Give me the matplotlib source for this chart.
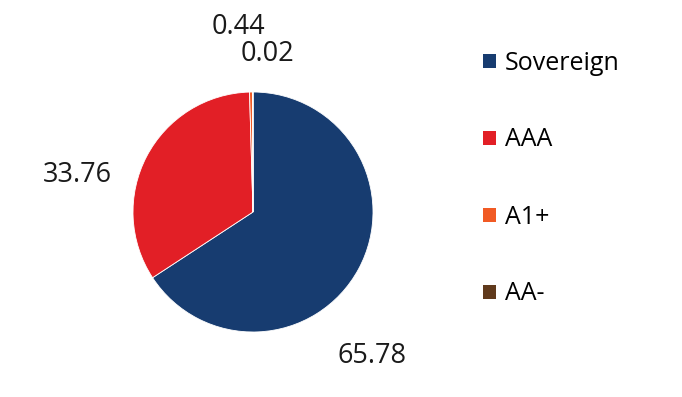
import numpy as np
import matplotlib.pyplot as plt
from matplotlib.patches import Patch

plt.rcParams['font.family'] = ['Open Sans', 'DejaVu Sans']

# ratings breakdown (%)
ratings = ["Sovereign", "AAA", "A1+", "AA-"]
shares = [65.78, 33.76, 0.44, 0.02]
value_labels = ["65.78", "33.76", "0.44", "0.02"]
colors = ["#173c70", "#e21f26", "#f15a24", "#603a1c"]

W, H = 682, 397
fig = plt.figure(figsize=(W / 100, H / 100), dpi=100)

# pie centre ~ (253, 212) px, radius ~ 120 px
cx, cy, r = 253, 212, 120
ax = fig.add_axes([(cx - r) / W, (H - cy - r) / H, 2 * r / W, 2 * r / H])
ax.pie(shares, colors=colors, startangle=90, counterclock=False,
       wedgeprops=dict(linewidth=0.6, edgecolor='white'))
ax.set_xlim(-1, 1)
ax.set_ylim(-1, 1)
ax.set_aspect('equal')
ax.axis('off')

# label offsets from centre in radius units (Excel "best fit" placement)
label_pos = [(0.99, -1.2), (-1.46, 0.31), (-0.12, 1.54), (0.12, 1.32)]
for txt, (x, y) in zip(value_labels, label_pos):
    ax.text(x, y, txt, ha='center', va='center', fontsize=19.5,
            color='#1a1a1a', clip_on=False)

handles = [Patch(facecolor=c, edgecolor='none') for c in colors]
fig.legend(handles, ratings, loc='upper left', bbox_to_anchor=(461 / W, 1 - 28 / H),
           frameon=False, fontsize=18, labelspacing=2.08,
           handlelength=0.5, handleheight=0.5, handletextpad=0.35)

fig.savefig("out.png", dpi=100)
